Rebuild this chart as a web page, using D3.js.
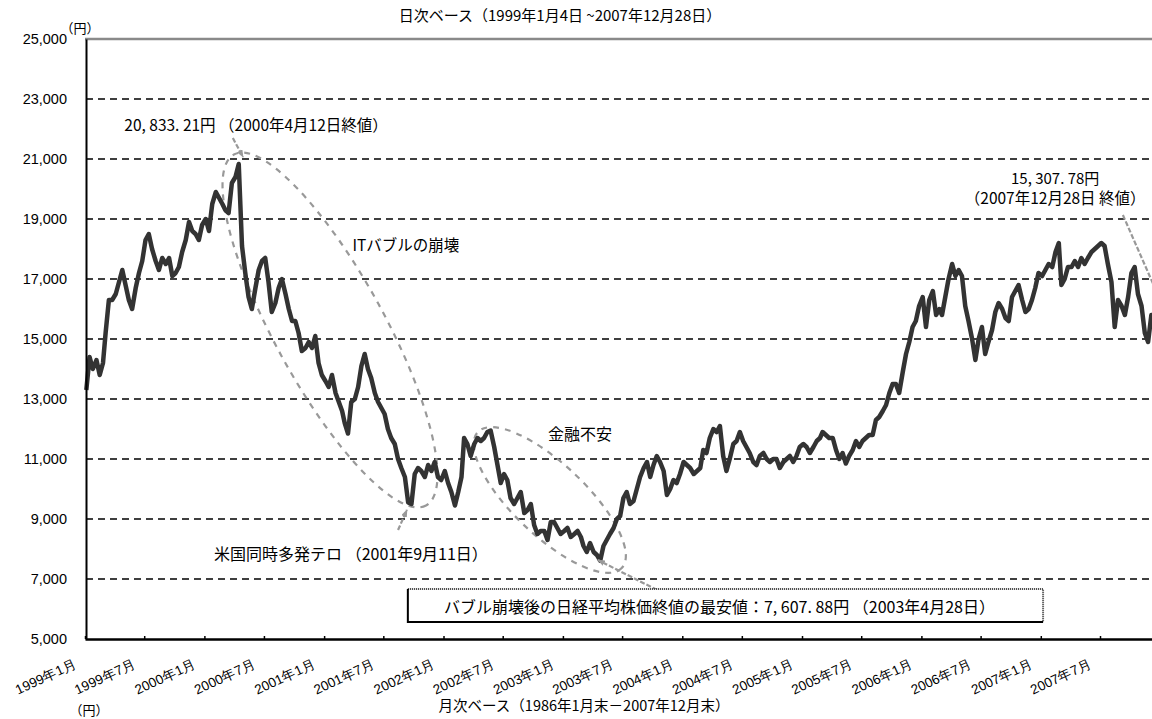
<!DOCTYPE html>
<html>
<head>
<meta charset="utf-8">
<script src="https://cdn.jsdelivr.net/npm/d3@7"></script>
<style>
  body { margin: 0; background: #fff; }
  svg { display: block; font-family: "Noto Sans CJK JP", "Noto Sans", sans-serif; }
</style>
</head>
<body>
<svg id="chart" width="1152" height="719"></svg>
<script>
// 日経平均株価 終値（各月 5日・15日・25日ごろの値を図から読み取り）
const closes1999 = [13300,14400,14000, 14300,13800,14200, 15200,16300,16300, 16500,16900,17300,
                    16800,16300,16000, 16700,17200,17600, 18300,18500,18000, 17600,17300,17700,
                    17500,17700,17100, 17200,17400,17900, 18300,18900,18600, 18500,18300,18800];
const closes2000 = [19000,18600,19500, 19900,19700,19500, 19300,19200,20200, 20400,20833,18100,
                    17200,16400,16000, 16700,17300,17600, 17700,16900,15900, 16200,16700,17000,
                    16500,16000,15600, 15600,15200,14600, 14700,14900,14700, 15100,14200,13800];
const closes2001 = [13600,13400,13800, 13200,12900,12600, 12200,11850,12900, 13000,13400,14100,
                    14500,14000,13700, 13200,12900,12700, 12500,12000,11700, 11500,11000,10700,
                    10400,9550,9500, 10500,10700,10600, 10400,10800,10600, 10900,10400,10300];
const closes2002 = [10600,10200,9900, 9450,9900,10400, 11700,11500,11100, 11500,11700,11600,
                    11700,11900,11950, 11400,10800,10200, 10500,10300,9700, 9500,9700,9900,
                    9200,9300,9500, 8800,8500,8600, 8600,8300,8900, 8900,8700,8500];
const closes2003 = [8600,8700,8400, 8500,8600,8400, 8100,7900,8200, 7900,7800,7608,
                    8100,8300,8500, 8700,9000,9100, 9700,9900,9500, 9600,10000,10400,
                    10700,10900,10400, 10800,11100,10900, 10600,9800,10000, 10300,10200,10500];
const closes2004 = [10900,10800,10700, 10500,10600,10700, 11300,11200,11700, 12000,11900,12100,
                    11100,10600,11000, 11500,11600,11900, 11600,11400,11200, 10900,10800,11100,
                    11200,11000,10900, 11000,11000,10700, 10900,11000,11100, 10900,11100,11400];
const closes2005 = [11500,11400,11200, 11400,11600,11700, 11900,11800,11700, 11700,11300,11000,
                    11200,10850,11100, 11300,11600,11400, 11600,11700,11800, 11800,12300,12400,
                    12600,12800,13200, 13500,13500,13200, 13900,14500,14900, 15400,15600,16100];
const closes2006 = [16400,15400,16300, 16600,15800,16000, 15800,16400,17000, 17500,17100,17300,
                    17100,16100,15600, 15000,14300,15000, 15400,14500,14900, 15300,15900,16200,
                    16000,15700,15600, 16400,16600,16800, 16300,15900,16000, 16300,16700,17200];
const closes2007 = [17100,17300,17500, 17400,17900,18200, 16800,17000,17400, 17400,17600,17400,
                    17700,17500,17700, 17900,18000,18100, 18200,18100,17500, 16900,15400,16300,
                    16100,15800,16400, 17200,17400,16500, 16100,15200,14900, 15800,15500,15308];
const years = [1999, 2000, 2001, 2002, 2003, 2004, 2005, 2006, 2007];
const closesByYear = [closes1999, closes2000, closes2001, closes2002, closes2003,
                      closes2004, closes2005, closes2006, closes2007];
const sampleDays = [5, 15, 25];

const yTicks = [5000, 7000, 9000, 11000, 13000, 15000, 17000, 19000, 21000, 23000, 25000];
const xTickLabels = ["1999年1月","1999年7月","2000年1月","2000年7月","2001年1月","2001年7月",
                     "2002年1月","2002年7月","2003年1月","2003年7月","2004年1月","2004年7月",
                     "2005年1月","2005年7月","2006年1月","2006年7月","2007年1月","2007年7月"];

const titleText = "日次ベース（1999年1月4日 ~2007年12月28日）";
const unitText = "（円）";
const peakText = "20, 833. 21円 （2000年4月12日終値）";
const itText = "ITバブルの崩壊";
const crisisText = "金融不安";
const terrorText = "米国同時多発テロ （2001年9月11日）";
const lowText = "バブル崩壊後の日経平均株価終値の最安値：7, 607. 88円 （2003年4月28日）";
const lastText1 = "15, 307. 78円";
const lastText2 = "（2007年12月28日 終値）";
const nextTitle = "月次ベース（1986年1月末－2007年12月末）";

// 系列データ
const data = [];
years.forEach((yr, k) => {
  closesByYear[k].forEach((v, i) => {
    data.push({ date: new Date(yr, Math.floor(i / 3), sampleDays[i % 3]), value: v });
  });
});

const W = 1152, H = 719;
const svg = d3.select("#chart");

const t0 = new Date(1999, 0, 1), t1 = new Date(2007, 6, 1), tEnd = new Date(2008, 0, 1);
const x = d3.scaleTime().domain([t0, t1]).range([85, 1100]);
const xEndPx = x(tEnd);
x.domain([t0, tEnd]).range([85, xEndPx]);
const y = d3.scaleLinear().domain([5000, 25000]).range([639, 39]);

const parse = d3.timeParse("%Y-%m-%d");
const P = (ds, v) => [x(parse(ds)), y(v)];

// 矢印
const defs = svg.append("defs");
defs.append("marker")
  .attr("id", "arw").attr("viewBox", "0 0 8 6")
  .attr("refX", 7).attr("refY", 3)
  .attr("markerWidth", 8).attr("markerHeight", 6)
  .attr("markerUnits", "userSpaceOnUse").attr("orient", "auto")
  .append("path").attr("d", "M0,0L8,3L0,6Z").attr("fill", "#999");

// 目盛線（破線）
svg.append("g").selectAll("line")
  .data(yTicks.filter(d => d > 5000 && d < 25000))
  .join("line")
  .attr("x1", x(t0) + 1).attr("x2", W)
  .attr("y1", d => y(d)).attr("y2", d => y(d))
  .attr("stroke", "#000").attr("stroke-width", 1.6)
  .attr("stroke-dasharray", "7,5");

// 上端の線
svg.append("line")
  .attr("x1", x(t0)).attr("x2", W)
  .attr("y1", y(25000)).attr("y2", y(25000))
  .attr("stroke", "#8a8a8a").attr("stroke-width", 2.5);

// 楕円
const dashStyle = sel => sel.attr("fill", "none").attr("stroke", "#999")
  .attr("stroke-width", 2.2).attr("stroke-dasharray", "6,6");

const c1 = P("2001-01-19", 15300);
svg.append("ellipse").call(dashStyle)
  .attr("cx", c1[0]).attr("cy", c1[1]).attr("rx", 200).attr("ry", 55)
  .attr("transform", `rotate(61.3 ${c1[0]} ${c1[1]})`);

const c2 = P("2002-11-22", 9633);
svg.append("ellipse").call(dashStyle)
  .attr("cx", c2[0]).attr("cy", c2[1]).attr("rx", 99).attr("ry", 36)
  .attr("transform", `rotate(43.4 ${c2[0]} ${c2[1]})`);

// 株価ライン
const line = d3.line().x(d => x(d.date)).y(d => y(d.value));
svg.append("path").datum(data)
  .attr("d", line)
  .attr("fill", "none")
  .attr("stroke", "#333")
  .attr("stroke-width", 4.5)
  .attr("stroke-linejoin", "round");

// 指示線
const arrows = [
  [P("2000-03-28", 21700), P("2000-04-28", 21067)],
  [P("2001-08-15", 8633), P("2001-09-11", 9300)],
  [P("2003-10-16", 6633), P("2003-04-18", 7633)],
  [P("2007-09-09", 19133), P("2008-01-01", 16300)]
];
svg.append("g").selectAll("line").data(arrows).join("line")
  .attr("x1", d => d[0][0]).attr("y1", d => d[0][1])
  .attr("x2", d => d[1][0]).attr("y2", d => d[1][1])
  .attr("stroke", "#999").attr("stroke-width", 2.2)
  .attr("stroke-dasharray", "5,2")
  .attr("marker-end", "url(#arw)");

// 軸
const yAxis = svg.append("g")
  .attr("transform", `translate(${x(t0) + 1},0)`)
  .call(d3.axisLeft(y).tickValues(yTicks).tickSize(0).tickPadding(19).tickFormat(d3.format(",")));
yAxis.select(".domain").attr("stroke", "#000").attr("stroke-width", 2);
yAxis.selectAll("text").attr("font-size", 14.5).attr("font-family", "'Liberation Sans', sans-serif")
  .attr("fill", "#000");

const xTicks = d3.range(xTickLabels.length).map(i => d3.timeMonth.offset(t0, i * 6));
const xAxis = svg.append("g")
  .attr("transform", `translate(0,${y(5000)})`)
  .call(d3.axisBottom(x).tickValues(xTicks).tickSizeInner(-3).tickSizeOuter(0)
    .tickFormat((d, i) => xTickLabels[i]));
xAxis.select(".domain").attr("stroke", "#000").attr("stroke-width", 2.4);
xAxis.selectAll(".tick line").attr("stroke", "#000").attr("stroke-width", 1.5);
xAxis.selectAll("text")
  .attr("y", 0).attr("dy", 0)
  .attr("text-anchor", "end")
  .attr("transform", "translate(-8,28) rotate(-25)")
  .attr("font-size", 13.5).attr("fill", "#000");

// 文字
const label = (txt, pos, size, anchor) => svg.append("text")
  .attr("x", pos[0]).attr("y", pos[1])
  .attr("text-anchor", anchor || "middle")
  .attr("dominant-baseline", "central")
  .attr("font-size", size).attr("fill", "#000")
  .text(txt);

label(titleText, [560, 14], 15);
label(unitText, [x(t0) - 5, 27], 13, "middle");
label(peakText, P("2000-06-07", 22170), 15.5);
label(itText, P("2001-09-08", 18167), 15.5);
label(crisisText, P("2003-02-22", 11867), 16);
label(terrorText, P("2001-03-24", 7867), 16);
label(lastText1, P("2007-02-14", 20400), 15);
label(lastText2, P("2007-02-14", 19733), 15.5);

// 最安値の枠
const b0 = P("2001-09-14", 6667), b1 = P("2007-01-08", 5567);
svg.append("rect")
  .attr("x", b0[0]).attr("y", b0[1])
  .attr("width", b1[0] - b0[0]).attr("height", b1[1] - b0[1])
  .attr("fill", "#fff");
svg.append("path")
  .attr("d", `M${b0[0]},${b0[1]}H${b1[0]}V${b1[1]}`)
  .attr("fill", "none").attr("stroke", "#333").attr("stroke-width", 2)
  .attr("stroke-dasharray", "1,1");
svg.append("path")
  .attr("d", `M${b0[0]},${b0[1]}V${b1[1]}H${b1[0]}`)
  .attr("fill", "none").attr("stroke", "#000").attr("stroke-width", 2);
label(lowText, [(b0[0] + b1[0]) / 2 - 6, (b0[1] + b1[1]) / 2 + 1], 16);

// 下の図の見出し（見切れ）
label(nextTitle, [584, 704], 14.5);
label(unitText, [89, 709], 13);
</script>
</body>
</html>
